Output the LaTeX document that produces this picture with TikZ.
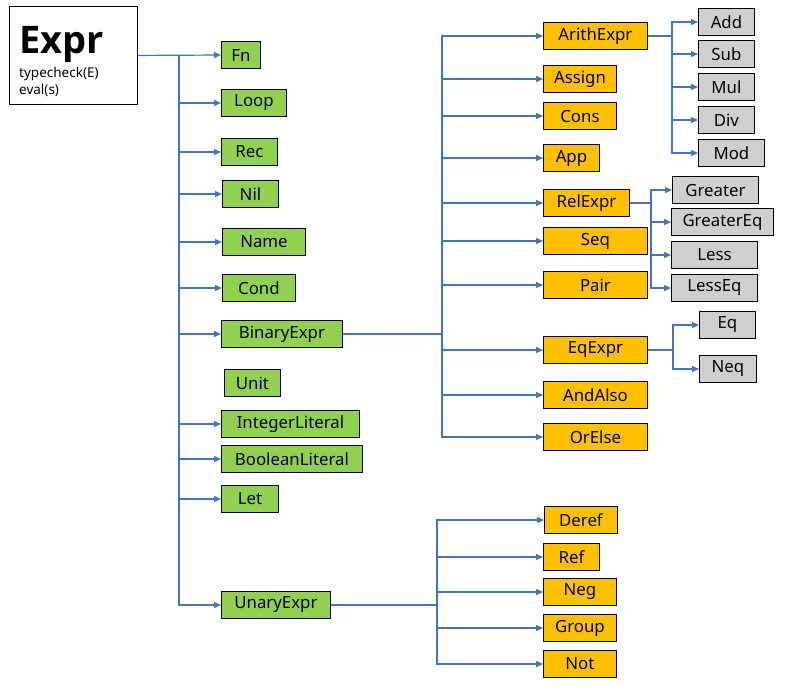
\documentclass[tikz,border=0pt]{standalone}
\usepackage{fontspec}
\setmainfont{Noto Sans}
\newfontfamily\titlefont{Open Sans}
\usetikzlibrary{arrows.meta}

\definecolor{kindgreen}{RGB}{146,208,80}
\definecolor{oporange}{RGB}{255,192,0}
\definecolor{primgray}{RGB}{208,206,206}
\definecolor{linkblue}{RGB}{68,114,196}

\tikzset{
  box/.style = {draw, line width=0.9pt, minimum height=27, inner sep=0pt, anchor=west,
                font=\fontsize{16.8}{18}\selectfont},
  kindbox/.style = {box, fill=kindgreen},
  opbox/.style = {box, fill=oporange},
  primbox/.style = {box, fill=primgray},
  link/.style = {draw=linkblue, line width=1.2pt, -{Triangle[length=7pt,width=6pt]}},
  trunk/.style = {draw=linkblue, line width=1.5pt}
}

\begin{document}
\begin{tikzpicture}[x=1pt, y=-1pt]
\useasboundingbox (0,0) rectangle (812,697);

% root
\node [draw, line width=0.9pt, minimum width=128, minimum height=98, anchor=north west, inner sep=0pt] (expr) at (9,6) {};
\node [anchor=base west, inner sep=0pt, font=\titlefont\fontsize{38}{38}\selectfont\bfseries] (exprname) at (19,53) {Expr};
\node [anchor=base west, inner sep=0pt, font=\fontsize{13.5}{15}\selectfont] (typecheck) at (19,77) {typecheck(E)};
\node [anchor=base west, inner sep=0pt, font=\fontsize{13.5}{15}\selectfont] (eval) at (19,94) {eval(s)};

% kinds of expression
\node [kindbox, minimum width=39] (fn) at (221,55) {Fn};
\node [kindbox, minimum width=65] (loop) at (221,103) {Loop};
\node [kindbox, minimum width=56] (rec) at (221,152) {Rec};
\node [kindbox, minimum width=56] (nil) at (222,194) {Nil};
\node [kindbox, minimum width=83] (name) at (222,242) {Name};
\node [kindbox, minimum width=73] (cond) at (222,288) {Cond};
\node [kindbox, minimum width=121] (binary) at (221,334) {BinaryExpr};
\node [kindbox, minimum width=56] (unit) at (224,383) {Unit};
\node [kindbox, minimum width=138] (intlit) at (221,424) {IntegerLiteral};
\node [kindbox, minimum width=141] (boollit) at (221,459) {BooleanLiteral};
\node [kindbox, minimum width=57] (let) at (221,499) {Let};
\node [kindbox, minimum width=109] (unary) at (221,605) {UnaryExpr};

% binary operators
\node [opbox, minimum width=104] (arith) at (543,36) {ArithExpr};
\node [opbox, minimum width=73] (assign) at (543,79) {Assign};
\node [opbox, minimum width=73] (cons) at (543,116) {Cons};
\node [opbox, minimum width=56] (app) at (543,158) {App};
\node [opbox, minimum width=86] (rel) at (543,203) {RelExpr};
\node [opbox, minimum width=104] (seq) at (543,241) {Seq};
\node [opbox, minimum width=104] (pair) at (543,285) {Pair};
\node [opbox, minimum width=104] (eqexpr) at (543,350) {EqExpr};
\node [opbox, minimum width=104] (andalso) at (543,395) {AndAlso};
\node [opbox, minimum width=104] (orelse) at (543,437) {OrElse};

% arithmetic, relational and equality operators
\node [primbox, minimum width=56] (add) at (698,22) {Add};
\node [primbox, minimum width=56] (sub) at (698,54) {Sub};
\node [primbox, minimum width=56] (mul) at (698,87) {Mul};
\node [primbox, minimum width=56] (div) at (698,120) {Div};
\node [primbox, minimum width=66] (mod) at (698,153) {Mod};
\node [primbox, minimum width=86] (greater) at (672,190) {Greater};
\node [primbox, minimum width=102] (greatereq) at (671,222) {GreaterEq};
\node [primbox, minimum width=86] (less) at (671,255) {Less};
\node [primbox, minimum width=86] (lesseq) at (671,288) {LessEq};
\node [primbox, minimum width=56] (eq) at (699,325) {Eq};
\node [primbox, minimum width=57] (neq) at (699,369) {Neq};

% unary operators
\node [opbox, minimum width=73] (deref) at (544,520) {Deref};
\node [opbox, minimum width=56] (ref) at (543,557) {Ref};
\node [opbox, minimum width=73] (neg) at (543,592) {Neg};
\node [opbox, minimum width=73] (group) at (543,628) {Group};
\node [opbox, minimum width=73] (not) at (543,664) {Not};

% branch points
\coordinate (tk) at (179,55);
\coordinate (bk) at (442,334);
\coordinate (ak) at (672,36);
\coordinate (rk) at (651,203);
\coordinate (ek) at (673,350);
\coordinate (uk) at (437,605);

% connectors
\draw [link] (expr.east) -- (fn.west);
\draw [trunk] (tk) -- (179,605);
\foreach \n in {loop,rec,nil,name,cond,binary,intlit,boollit,let,unary}
  \draw [link] (tk) |- (\n.west);

\draw [trunk] (binary.east) -- (bk);
\foreach \n in {arith,assign,cons,app,rel,seq,pair,eqexpr,andalso,orelse}
  \draw [link] (bk) |- (\n.west);

\draw [link, -] (arith.east) -- (ak);
\foreach \n in {add,sub,mul,div,mod}
  \draw [link] (ak) |- (\n.west);

\draw [link, -] (rel.east) -- (rk);
\foreach \n in {greater,greatereq,less,lesseq}
  \draw [link] (rk) |- (\n.west);

\draw [link, -] (eqexpr.east) -- (ek);
\foreach \n in {eq,neq}
  \draw [link] (ek) |- (\n.west);

\draw [trunk] (unary.east) -- (uk);
\foreach \n in {deref,ref,neg,group,not}
  \draw [link] (uk) |- (\n.west);
\end{tikzpicture}
\end{document}
